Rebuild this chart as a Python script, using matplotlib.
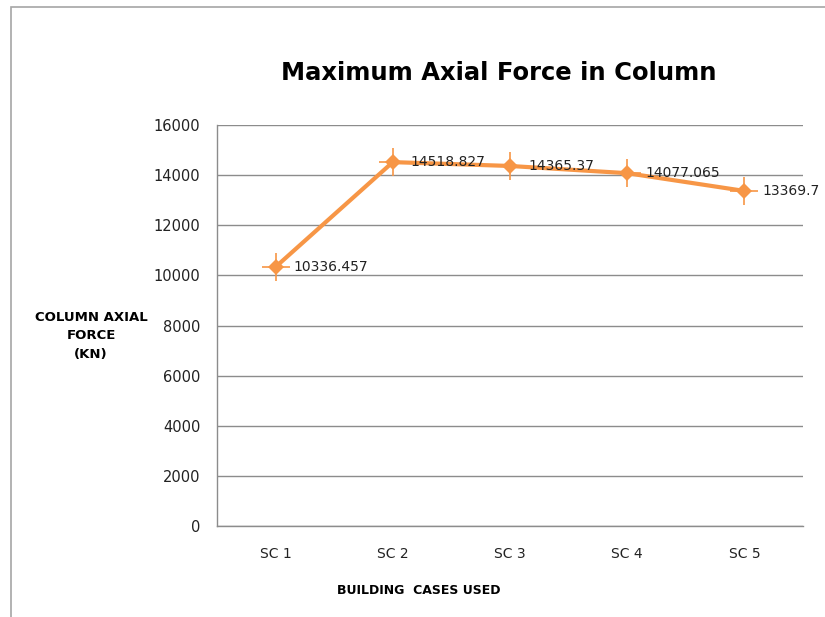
import numpy as np
import matplotlib.pyplot as plt
from matplotlib.patches import Rectangle

# Axial force per building case
cases = ["SC 1", "SC 2", "SC 3", "SC 4", "SC 5"]
axial_force = [10336.457, 14518.827, 14365.37, 14077.065, 13369.7]
value_labels = ["10336.457", "14518.827", "14365.37", "14077.065", "13369.7"]
y_ticks = [0, 2000, 4000, 6000, 8000, 10000, 12000, 14000, 16000]

orange = "#F79646"
grid_grey = "#8C8C8C"

fig = plt.figure(figsize=(8.25, 6.17), dpi=100)
ax = fig.add_axes([217 / 825, 1 - 526 / 617, 586 / 825, 401 / 617])

# chart border, cut off on the right and bottom
fig.patches.append(Rectangle((11 / 825, -0.05), 1.1, 1 - 7 / 617 + 0.05,
                             transform=fig.transFigure, fill=False,
                             edgecolor="#A6A6A6", linewidth=1.2))

x = np.arange(len(cases))
ax.plot(x, axial_force, color=orange, linewidth=3, solid_capstyle="butt", zorder=3)
# star-like markers: filled diamond with thin cross arms
ax.plot(x, axial_force, linestyle="none", marker="+", markersize=20,
        markeredgewidth=1.2, color=orange, zorder=4)
ax.plot(x, axial_force, linestyle="none", marker="D", markersize=8.5,
        color=orange, markeredgewidth=0, zorder=4)

for xi, yi, lbl in zip(x, axial_force, value_labels):
    ax.annotate(lbl, (xi, yi), xytext=(13, 0), textcoords="offset points",
                ha="left", va="center", fontsize=10, color="#222222", zorder=5)

ax.set_xlim(-0.5, len(cases) - 0.5)
ax.set_ylim(0, 16000)
ax.set_yticks(y_ticks)
ax.set_xticks(x)
ax.set_xticklabels(cases)
ax.yaxis.grid(True, color=grid_grey, linewidth=1)
ax.set_axisbelow(True)
ax.tick_params(axis="both", length=0, labelsize=10, colors="#222222")
ax.tick_params(axis="y", labelsize=10.5, pad=12)
ax.tick_params(axis="x", pad=15)

for side in ["top", "right"]:
    ax.spines[side].set_visible(False)
for side in ["left", "bottom"]:
    ax.spines[side].set_color(grid_grey)
    ax.spines[side].set_linewidth(1)

fig.text(499 / 825, 1 - 73 / 617, "Maximum Axial Force in Column",
         ha="center", va="center", fontsize=17.5, fontweight="bold")
fig.text(91 / 825, 1 - 336 / 617, "COLUMN AXIAL\nFORCE\n(KN)",
         ha="center", va="center", fontsize=9.5, fontweight="bold",
         linespacing=1.55)
fig.text(419 / 825, 1 - 590 / 617, "BUILDING  CASES USED",
         ha="center", va="center", fontsize=9, fontweight="bold")

fig.savefig("out.png", dpi=100)
